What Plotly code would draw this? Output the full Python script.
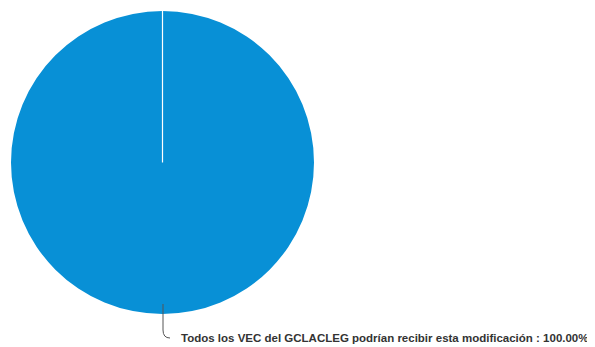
import plotly.graph_objects as go

labels = ["Todos los VEC del GCLACLEG podrían recibir esta modificación"]
values = [100.0]
colors = ["#0890d6"]

W, H = 595, 347
OFF = 8  # default page body margin
FW, FH = W - OFF, H - OFF

def px(x): return (x - OFF) / FW
def py(y): return 1 - (y - OFF) / FH

x0, x1 = px(11), px(314)
y0, y1 = py(315), py(10)

total = sum(values)
label_text = f"{labels[0]} : {values[0] / total * 100:.2f}%"

fig = go.Figure(go.Pie(
    labels=labels, values=values, sort=False, direction="clockwise", rotation=0,
    marker=dict(colors=colors, line=dict(color="white", width=0)),
    textinfo="none", hoverinfo="label+percent", showlegend=False,
    domain=dict(x=[x0, x1], y=[y0, y1]),
))

cx = (x0 + x1) / 2
cy = (y0 + y1) / 2
fig.add_shape(type="line", xref="paper", yref="paper",
              x0=cx, x1=cx, y0=cy, y1=y1, line=dict(color="white", width=1.2))

path = (f"M {px(163)},{py(304)} L {px(163)},{py(330)} "
        f"Q {px(163)},{py(338)} {px(170)},{py(338)}")
fig.add_shape(type="path", xref="paper", yref="paper", path=path,
              line=dict(color="#555555", width=1))

fig.add_annotation(xref="paper", yref="paper", x=px(179), y=py(338),
                   xanchor="left", yanchor="middle", showarrow=False,
                   text=f"<b>{label_text}</b>",
                   font=dict(family="Liberation Sans, Arial", size=11.5, color="#333333"))

fig.update_layout(width=FW, height=FH, margin=dict(l=0, r=0, t=0, b=0),
                  paper_bgcolor="white", plot_bgcolor="white")
fig.write_html("out.html")
